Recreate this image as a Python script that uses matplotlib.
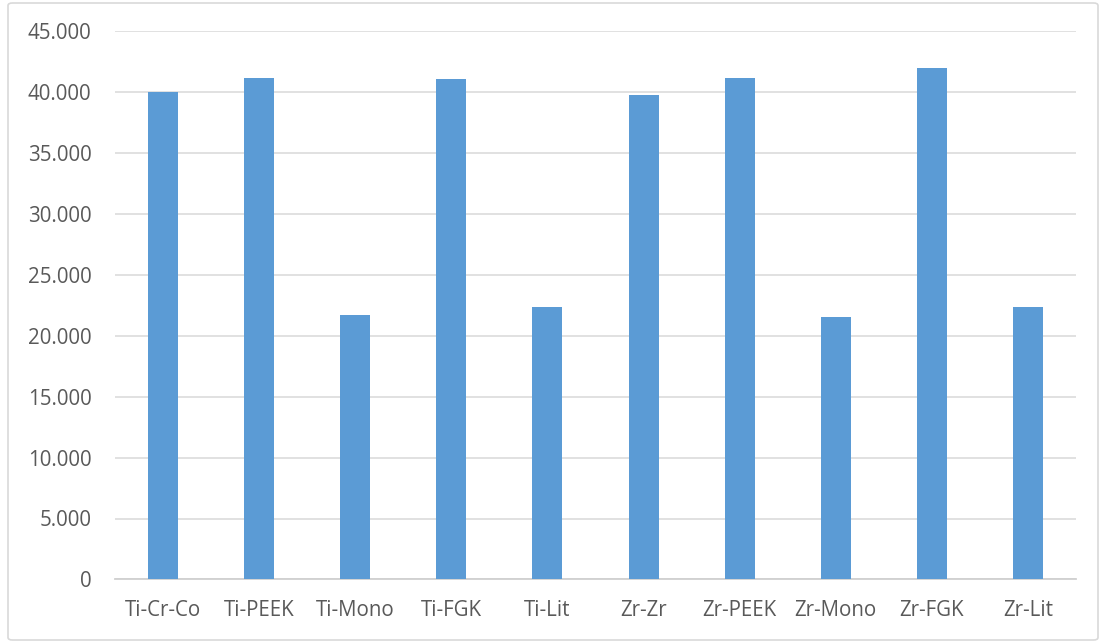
import matplotlib
matplotlib.use("Agg")
import matplotlib.pyplot as plt
from matplotlib.patches import FancyBboxPatch
from matplotlib.ticker import FuncFormatter, MultipleLocator

categories = ["Ti-Cr-Co", "Ti-PEEK", "Ti-Mono", "Ti-FGK", "Ti-Lit",
              "Zr-Zr", "Zr-PEEK", "Zr-Mono", "Zr-FGK", "Zr-Lit"]
values = [40000, 41140, 21680, 41100, 22360,
          39770, 41140, 21540, 42000, 22360]

plt.rcParams["font.family"] = ["Open Sans", "DejaVu Sans"]

fig = plt.figure(figsize=(11.05, 6.43), dpi=100)
fig.patch.set_facecolor("white")

# chart frame
frame = FancyBboxPatch((8 / 1105, 3 / 643), 1090 / 1105, 637 / 643,
                       boxstyle="round,pad=0,rounding_size=0.004",
                       transform=fig.transFigure, facecolor="none",
                       edgecolor="#d9d9d9", linewidth=1.2, zorder=-1)
fig.patches.append(frame)

ax = fig.add_axes([115 / 1105, (643 - 579.4) / 643, 961 / 1105, 548.1 / 643])
ax.set_facecolor("none")

x = range(len(categories))
ax.bar(x, values, width=0.312, color="#5b9bd5", zorder=3)

ax.set_xlim(-0.5, len(categories) - 0.5)
ax.set_ylim(0, 45000)
ax.yaxis.set_major_locator(MultipleLocator(5000))
ax.yaxis.set_major_formatter(
    FuncFormatter(lambda v, p: f"{v:,.0f}".replace(",", ".")))

ax.set_xticks(list(x))
ax.set_xticklabels(categories)

ax.grid(axis="y", color="#d9d9d9", linewidth=1.1, zorder=0)
ax.set_axisbelow(True)
for side in ("top", "right", "left"):
    ax.spines[side].set_visible(False)
ax.spines["bottom"].set_color("#d0d0d0")
ax.spines["bottom"].set_linewidth(1.3)

ax.tick_params(axis="both", length=0, labelsize=14.8, colors="#595959")
ax.tick_params(axis="y", pad=17)
ax.tick_params(axis="x", pad=15)

fig.savefig("out.png", dpi=100, facecolor="white")
